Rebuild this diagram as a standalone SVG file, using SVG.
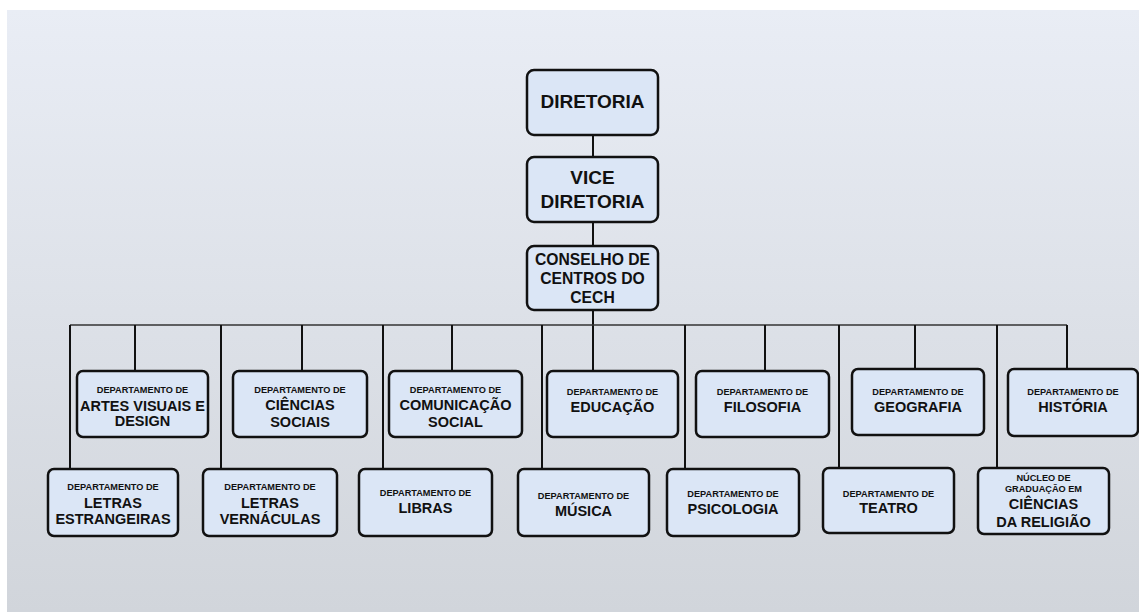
<svg xmlns="http://www.w3.org/2000/svg" width="1139" height="612" viewBox="0 0 1139 612">
<defs>
<linearGradient id="bg" x1="0" y1="0" x2="0" y2="1">
<stop offset="0" stop-color="#e9edf5"/>
<stop offset="1" stop-color="#d1d5db"/>
</linearGradient>
</defs>
<style>
.box{fill:#dbe6f6;stroke:#111;stroke-width:2.5}
.ln{stroke:#111;stroke-width:2;fill:none}
.bus{stroke:#333;stroke-width:1.5;fill:none}
text{font-family:"Liberation Sans",Arial,sans-serif;font-weight:bold;fill:#111;text-anchor:middle}
.s{font-size:9.2px}
.b{font-size:14.5px}
.t{font-size:19px}
.c{font-size:15.7px}
</style>
<rect width="1139" height="612" fill="#fff"/>
<rect x="7" y="10" width="1132" height="602" fill="url(#bg)"/>
<g id="connectors">
<path class="ln" d="M593 135V157M593 222V246M593 310V371"/>
<path class="bus" d="M70 325H1067"/>
<path class="ln" d="M70 325V469M221 325V469M383 325V469M542 325V469M685 325V469M839 325V468M997 325V468"/>
<path class="ln" d="M135 325V371M302 325V371M452 325V371M765 325V371M915 325V369M1067 325V369"/>
</g>
<g id="diretoria"><rect class="box" x="527" y="70" width="131" height="65" rx="7"/><text class="t" x="592.5" y="108">DIRETORIA</text></g>
<g id="vice"><rect class="box" x="527" y="157" width="131" height="65" rx="7"/><text class="t" x="592.5" y="184">VICE</text><text class="t" x="592.5" y="208">DIRETORIA</text></g>
<g id="conselho"><rect class="box" x="527" y="246" width="131" height="64" rx="7"/><text class="c" x="592.5" y="265">CONSELHO DE</text><text class="c" x="592.5" y="284">CENTROS DO</text><text class="c" x="592.5" y="303">CECH</text></g>

<g id="artes"><rect class="box" x="77" y="371" width="131" height="66" rx="6"/><text class="s" x="142.5" y="393">DEPARTAMENTO DE</text><text class="b" x="142.5" y="411">ARTES VISUAIS E</text><text class="b" x="142.5" y="426">DESIGN</text></g>
<g id="ciencias-sociais"><rect class="box" x="233" y="371" width="134" height="66" rx="6"/><text class="s" x="300" y="393">DEPARTAMENTO DE</text><text class="b" x="300" y="410">CIÊNCIAS</text><text class="b" x="300" y="427">SOCIAIS</text></g>
<g id="comunicacao"><rect class="box" x="389" y="371" width="133" height="66" rx="6"/><text class="s" x="455.5" y="393">DEPARTAMENTO DE</text><text class="b" x="455.5" y="410">COMUNICAÇÃO</text><text class="b" x="455.5" y="427">SOCIAL</text></g>
<g id="educacao"><rect class="box" x="547" y="371" width="131" height="66" rx="6"/><text class="s" x="612.5" y="395">DEPARTAMENTO DE</text><text class="b" x="612.5" y="412">EDUCAÇÃO</text></g>
<g id="filosofia"><rect class="box" x="696" y="371" width="133" height="66" rx="6"/><text class="s" x="762.5" y="395">DEPARTAMENTO DE</text><text class="b" x="762.5" y="412">FILOSOFIA</text></g>
<g id="geografia"><rect class="box" x="852" y="369" width="132" height="66" rx="6"/><text class="s" x="918" y="395">DEPARTAMENTO DE</text><text class="b" x="918" y="412">GEOGRAFIA</text></g>
<g id="historia"><rect class="box" x="1008" y="369" width="130" height="67" rx="6"/><text class="s" x="1073" y="395">DEPARTAMENTO DE</text><text class="b" x="1073" y="412">HISTÓRIA</text></g>

<g id="letras-estrangeiras"><rect class="box" x="48" y="469" width="130" height="67" rx="6"/><text class="s" x="113" y="490">DEPARTAMENTO DE</text><text class="b" x="113" y="508">LETRAS</text><text class="b" x="113" y="524">ESTRANGEIRAS</text></g>
<g id="letras-vernaculas"><rect class="box" x="203" y="469" width="134" height="67" rx="6"/><text class="s" x="270" y="490">DEPARTAMENTO DE</text><text class="b" x="270" y="508">LETRAS</text><text class="b" x="270" y="524">VERNÁCULAS</text></g>
<g id="libras"><rect class="box" x="359" y="469" width="133" height="67" rx="6"/><text class="s" x="425.5" y="496">DEPARTAMENTO DE</text><text class="b" x="425.5" y="513">LIBRAS</text></g>
<g id="musica"><rect class="box" x="518" y="469" width="131" height="67" rx="6"/><text class="s" x="583.5" y="499">DEPARTAMENTO DE</text><text class="b" x="583.5" y="516">MÚSICA</text></g>
<g id="psicologia"><rect class="box" x="667" y="469" width="132" height="67" rx="6"/><text class="s" x="733" y="497">DEPARTAMENTO DE</text><text class="b" x="733" y="514">PSICOLOGIA</text></g>
<g id="teatro"><rect class="box" x="823" y="468" width="131" height="65" rx="6"/><text class="s" x="888.5" y="497">DEPARTAMENTO DE</text><text class="b" x="888.5" y="513">TEATRO</text></g>
<g id="religiao"><rect class="box" x="978" y="468" width="131" height="66" rx="6"/><text class="s" x="1043.5" y="481">NÚCLEO DE</text><text class="s" x="1043.5" y="492">GRADUAÇÃO EM</text><text class="b" x="1043.5" y="509">CIÊNCIAS</text><text class="b" x="1043.5" y="527">DA RELIGIÃO</text></g>
</svg>
